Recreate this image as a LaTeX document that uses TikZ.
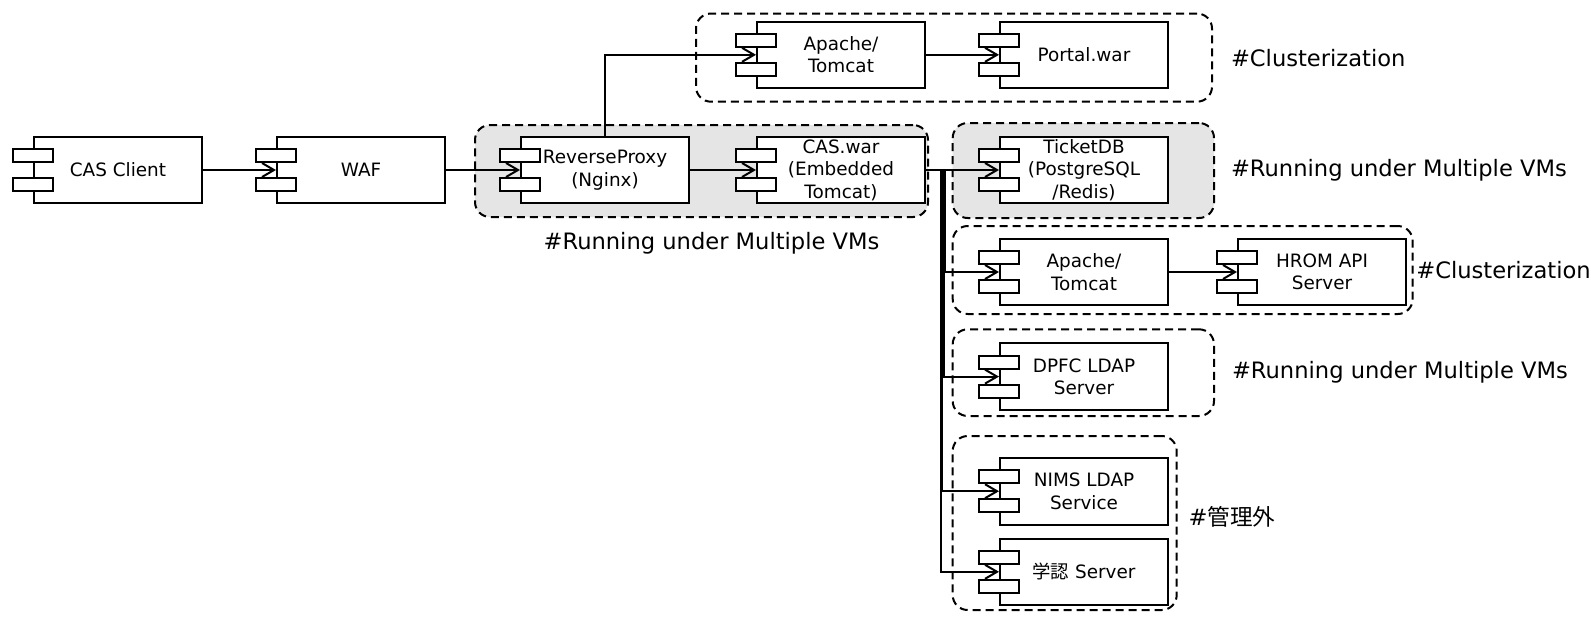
\documentclass[tikz,border=0pt]{standalone}
\usepackage{fontspec}
\setmainfont{DejaVu Sans}
\newfontfamily\jpfont{Noto Sans CJK JP}
\usetikzlibrary{positioning, arrows.meta, calc, fit}
\definecolor{grpgray}{gray}{0.9}

\begin{document}
\begin{tikzpicture}[>={Straight Barb[length=6pt, width=7pt]}, line width=1pt, x=0.5pt, y=-0.5pt,
    comp/.style={draw, fill=white,
        minimum width=84pt,
        minimum height=33.3pt,
        inner sep=0pt, align=center,
        font=\fontsize{9.2}{11.2}\selectfont},
    tab/.style={draw, fill=white},
    grp/.style={draw, dash pattern=on 4pt off 2.5pt,
        rounded corners=7.5pt, inner sep=0pt},
    note/.style={inner sep=0pt, font=\fontsize{11.3}{13}\selectfont}]
    \useasboundingbox (0,0) rectangle (1591,623);

    % groups
    \node [grp, fill=grpgray, fit={(475,125) (928,217)}] (gproxy) {};
    \node [grp, fit={(696,13.5) (1212,101.7)}] (gtop) {};
    \node [grp, fill=grpgray, fit={(952.7,123) (1214,218)}] (gticket) {};
    \node [grp, fit={(952.7,226) (1412.7,314)}] (gapache) {};
    \node [grp, fit={(952.7,329.3) (1214,416)}] (gdpfc) {};
    \node [grp, fit={(952.7,436) (1176.7,610)}] (gext) {};

    \node [note, below=6.5pt of gproxy, xshift=5pt] (lblproxy) {\#Running under Multiple VMs};
    \node [note, right=8.5pt of gtop] (lbltop) {\#Clusterization};
    \node [note, right=7.5pt of gticket] (lblticket) {\#Running under Multiple VMs};
    \node [note, right=0.8pt of gapache] (lblapache) {\#Clusterization};
    \node [note, right=8pt of gdpfc] (lbldpfc) {\#Running under Multiple VMs};
    \node [note, right=5pt of gext, yshift=3pt] (lblext) {\#{\jpfont 管理外}};

    % components
    \node [comp] (client) at (118,170) {CAS Client};
    \node [comp, right=36.5pt of client] (waf) {WAF};
    \node [comp, right=37pt of waf] (proxy) {ReverseProxy\\(Nginx)};
    \node [comp, right=33pt of proxy] (caswar) {CAS.war\\(Embedded\\Tomcat)};
    \node [comp, above=23.3pt of caswar] (apache1) {Apache/\\Tomcat};
    \node [comp, right=36.5pt of apache1] (portal) {Portal.war};
    \node [comp, right=36.5pt of caswar] (ticket) {TicketDB\\(PostgreSQL\\/Redis)};
    \node [comp, below=16.7pt of ticket] (apache2) {Apache/\\Tomcat};
    \node [comp, right=34pt of apache2] (hrom) {HROM API\\Server};
    \node [comp, below=18pt of apache2] (dpfc) {DPFC LDAP\\Server};
    \node [comp, below=23pt of dpfc] (nims) {NIMS LDAP\\Service};
    \node [comp, below=6pt of nims] (gakunin) {{\jpfont 学認} Server};

    \foreach \n in {client, waf, proxy, caswar, apache1, portal, ticket, apache2, hrom, dpfc, nims, gakunin} {
        \draw [tab] ($(\n.west)+(-20.5,-21)$) rectangle ++(40.5,13);
        \draw [tab] ($(\n.west)+(-20.5,8)$) rectangle ++(40.5,13);
    }

    % connectors
    \draw [->] (client) -- (waf);
    \draw [->] (waf) -- (proxy);
    \draw [->] (proxy) -- (caswar);
    \draw [->] (proxy.north) |- (apache1.west);
    \draw [->] (apache1) -- (portal);
    \draw [->] (caswar) -- (ticket);
    \draw [->] (apache2) -- (hrom);
    \foreach \t/\d in {apache2/19.3, dpfc/17.7, nims/16, gakunin/14.5}
        \draw [->] (caswar.east) -- ++(\d,0) |- (\t.west);
\end{tikzpicture}
\end{document}
